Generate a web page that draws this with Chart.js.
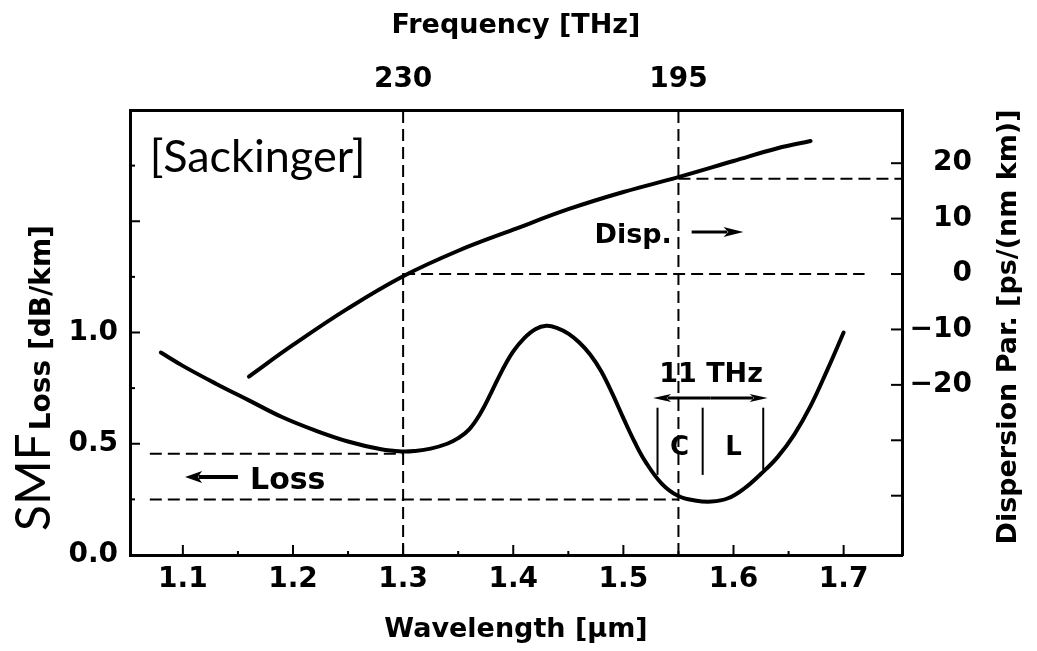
<!DOCTYPE html>
<html>
<head>
<meta charset="utf-8">
<script src="https://cdn.jsdelivr.net/npm/chart.js@4.4.0/dist/chart.umd.min.js"></script>
<style>
    html, body { margin: 0; padding: 0; background: #fff; }
    #wrap { width: 1037px; height: 651px; position: relative; }
</style>
</head>
<body>
<div id="wrap"><canvas id="fiber"></canvas></div>
<script>
// SMF attenuation, dB/km
const lossWavelength = [1.08, 1.10, 1.13, 1.16, 1.19, 1.22, 1.25, 1.28, 1.30, 1.31, 1.325, 1.34, 1.35, 1.36, 1.37, 1.38, 1.39, 1.40, 1.41, 1.42, 1.43, 1.44, 1.45, 1.46, 1.47, 1.48, 1.49, 1.50, 1.51, 1.52, 1.535, 1.55, 1.565, 1.58, 1.595, 1.61, 1.625, 1.64, 1.655, 1.67, 1.685, 1.70];
const lossValues     = [0.91, 0.85, 0.77, 0.695, 0.62, 0.56, 0.51, 0.475, 0.465, 0.467, 0.478, 0.50, 0.525, 0.565, 0.635, 0.73, 0.83, 0.915, 0.975, 1.015, 1.03, 1.02, 0.995, 0.955, 0.90, 0.825, 0.725, 0.615, 0.51, 0.42, 0.32, 0.265, 0.245, 0.24, 0.255, 0.30, 0.365, 0.44, 0.54, 0.67, 0.83, 1.00];

// chromatic dispersion, ps/(nm km)
const dispWavelength = [1.16, 1.20, 1.25, 1.30, 1.35, 1.40, 1.45, 1.50, 1.55, 1.60, 1.64, 1.67];
const dispValues     = [-18.5, -12.8, -6.2, -0.4, 4.2, 8.0, 11.7, 14.8, 17.5, 20.4, 22.7, 24.0];

const wavelengthTicks  = [1.1, 1.15, 1.2, 1.25, 1.3, 1.35, 1.4, 1.45, 1.5, 1.55, 1.6, 1.65, 1.7];
const wavelengthLabels = [1.1, 1.2, 1.3, 1.4, 1.5, 1.6, 1.7];
const lossTicks        = [0, 0.25, 0.5, 0.75, 1.0, 1.25, 1.5, 1.75];
const lossLabels       = [0, 0.5, 1.0];
const dispTicks        = [-40, -30, -20, -10, 0, 10, 20];
const dispLabels       = [-20, -10, 0, 10, 20];
const freqTickWavelength = [1.3, 1.55];
const freqLabels         = ['230', '195'];

// dashed reference lines and the C / L band markers
const guides = [
    { axis: 'y',  dash: true,  points: [[1.3, 0], [1.3, 2]] },
    { axis: 'y',  dash: true,  points: [[1.55, 0], [1.55, 2]] },
    { axis: 'y2', dash: true,  points: [[1.3, 0], [1.719, 0]] },
    { axis: 'y2', dash: true,  points: [[1.55, 17.2], [1.753, 17.2]] },
    { axis: 'y',  dash: true,  points: [[1.07, 0.455], [1.3, 0.455]] },
    { axis: 'y',  dash: true,  points: [[1.07, 0.25], [1.55, 0.25]] },
    { axis: 'y',  dash: false, points: [[1.531, 0.36], [1.531, 0.662]] },
    { axis: 'y',  dash: false, points: [[1.572, 0.36], [1.572, 0.662]] },
    { axis: 'y',  dash: false, points: [[1.627, 0.383], [1.627, 0.662]] }
];

const arrows = [
    { axis: 'y',  from: [1.150, 0.351], to: [1.102, 0.351], width: 4, head: 17, half: 6 },
    { axis: 'y2', from: [1.562, 7.6],   to: [1.609, 7.6],   width: 3, head: 20, half: 5 },
    { axis: 'y',  from: [1.579, 0.706], to: [1.527, 0.706], width: 3, head: 18, half: 4 },
    { axis: 'y',  from: [1.579, 0.706], to: [1.631, 0.706], width: 3, head: 18, half: 4 }
];

const BOLD = 'bold 27px "DejaVu Sans"';
const notes = [
    { text: '[Sackinger]', axis: 'y',  at: [1.070, 1.721], font: '45px Lato', align: 'left' },
    { text: 'Disp.',       axis: 'y2', at: [1.544, 5.6],   font: BOLD, align: 'right' },
    { text: 'Loss',        axis: 'y',  at: [1.161, 0.297], font: 'bold 30px "DejaVu Sans"', align: 'left' },
    { text: '11 THz',      axis: 'y',  at: [1.5796, 0.778], font: BOLD, align: 'center' },
    { text: 'C',           axis: 'y',  at: [1.551, 0.449], font: 'bold 26px "DejaVu Sans"', align: 'center' },
    { text: 'L',           axis: 'y',  at: [1.600, 0.449], font: 'bold 26px "DejaVu Sans"', align: 'center' }
];

const curve = (xs, ys) => xs.map((x, i) => ({ x, y: ys[i] }));
const minus = v => (v < 0 ? '\u2212' + Math.abs(v) : String(v));
const isHalf = v => Math.abs(v * 2 - Math.round(v * 2)) < 1e-9;

const tickFont = { family: '"DejaVu Sans"', size: 28, weight: 'bold' };
const titleFont = { family: '"DejaVu Sans"', size: 27, weight: 'bold' };
const frame = { display: true, color: '#000', width: 3 };

const figurePlugin = {
    id: 'figure',
    beforeDraw: chart => {
        const ctx = chart.ctx;
        ctx.save();
        ctx.fillStyle = '#fff';
        ctx.fillRect(0, 0, chart.width, chart.height);
        ctx.restore();
    },
    afterDraw: chart => {
        const ctx = chart.ctx;
        const area = chart.chartArea;
        const { x, y, y2 } = chart.scales;
        const px = (axis, p) => [x.getPixelForValue(p[0]), chart.scales[axis].getPixelForValue(p[1])];
        const line = (x1, y1, x2, y2) => { ctx.beginPath(); ctx.moveTo(x1, y1); ctx.lineTo(x2, y2); ctx.stroke(); };

        ctx.save();
        ctx.strokeStyle = '#000';
        ctx.fillStyle = '#000';

        // inward tick marks
        ctx.lineWidth = 2;
        wavelengthTicks.forEach(v => {
            const tx = x.getPixelForValue(v);
            line(tx, area.bottom, tx, area.bottom - (wavelengthLabels.includes(v) ? 10 : 4));
        });
        lossTicks.forEach(v => {
            const ty = y.getPixelForValue(v);
            line(area.left, ty, area.left + (isHalf(v) ? 10 : 5), ty);
        });
        dispTicks.forEach(v => {
            const ty = y2.getPixelForValue(v);
            line(area.right, ty, area.right - 11, ty);
        });

        // arrows
        arrows.forEach(a => {
            const [x1, y1] = px(a.axis, a.from);
            const [x2, y2p] = px(a.axis, a.to);
            const dir = Math.sign(x2 - x1);
            ctx.lineWidth = a.width;
            line(x1, y1, x2 - dir * a.head * 0.8, y2p);
            ctx.beginPath();
            ctx.moveTo(x2, y2p);
            ctx.lineTo(x2 - dir * a.head, y2p - a.half);
            ctx.lineTo(x2 - dir * a.head * 0.75, y2p);
            ctx.lineTo(x2 - dir * a.head, y2p + a.half);
            ctx.closePath();
            ctx.fill();
        });

        // text inside the plot
        ctx.textBaseline = 'alphabetic';
        notes.forEach(n => {
            const [nx, ny] = px(n.axis, n.at);
            ctx.font = n.font;
            ctx.textAlign = n.align;
            ctx.fillText(n.text, nx, ny);
        });

        // vertical axis titles, both reading upwards
        ctx.textAlign = 'left';
        ctx.save();
        ctx.translate(50, 531);
        ctx.rotate(-Math.PI / 2);
        ctx.font = '48px Lato';
        ctx.fillText('SMF', 0, 0);
        const w = ctx.measureText('SMF').width;
        ctx.font = 'bold 28px "DejaVu Sans"';
        ctx.fillText('Loss [dB/km]', w + 3, 0);
        ctx.restore();

        ctx.save();
        ctx.translate(1016, 327);
        ctx.rotate(-Math.PI / 2);
        ctx.textAlign = 'center';
        ctx.font = BOLD;
        ctx.fillText('Dispersion Par. [ps/(nm km)]', 0, 0);
        ctx.restore();

        ctx.restore();
    }
};

new Chart(document.getElementById('fiber'), {
    type: 'line',
    data: {
        datasets: [
            { data: curve(lossWavelength, lossValues), yAxisID: 'y', borderColor: '#000', borderWidth: 4, borderCapStyle: 'round', tension: 0.4, pointRadius: 0 },
            { data: curve(dispWavelength, dispValues), yAxisID: 'y2', borderColor: '#000', borderWidth: 4, borderCapStyle: 'round', tension: 0.4, pointRadius: 0 },
            ...guides.map(g => ({
                data: g.points.map(([gx, gy]) => ({ x: gx, y: gy })),
                yAxisID: g.axis,
                borderColor: '#000',
                borderWidth: 2,
                borderDash: g.dash ? [12, 6] : [],
                pointRadius: 0
            }))
        ]
    },
    options: {
        responsive: true,
        maintainAspectRatio: false,
        animation: false,
        layout: { padding: { right: 65 } },
        plugins: { legend: { display: false }, tooltip: { enabled: false } },
        scales: {
            x: {
                type: 'linear', position: 'bottom', min: 1.052, max: 1.753,
                afterBuildTicks: s => { s.ticks = wavelengthTicks.map(value => ({ value })); },
                afterFit: s => { s.height = 96; },
                grid: { display: false }, border: frame,
                ticks: {
                    autoSkip: false, maxRotation: 0, padding: 0, color: '#000', font: tickFont,
                    callback: v => (wavelengthLabels.includes(v) ? v.toFixed(1) : '')
                },
                title: { display: true, text: 'Wavelength [\u03bcm]', color: '#000', font: titleFont, padding: { top: 0, bottom: 5 } }
            },
            x2: {
                type: 'linear', position: 'top', min: 1.052, max: 1.753,
                afterBuildTicks: s => { s.ticks = freqTickWavelength.map(value => ({ value })); },
                afterFit: s => { s.height = 110; },
                grid: { display: false }, border: frame,
                ticks: {
                    autoSkip: false, maxRotation: 0, padding: 5, color: '#000', font: tickFont,
                    callback: (v, i) => freqLabels[i]
                },
                title: { display: true, text: 'Frequency [THz]', color: '#000', font: titleFont, padding: { top: 10, bottom: 0 } }
            },
            y: {
                type: 'linear', position: 'left', min: 0, max: 2.0,
                afterBuildTicks: s => { s.ticks = lossTicks.map(value => ({ value })); },
                afterFit: s => { s.width = 130; },
                grid: { display: false }, border: frame,
                ticks: {
                    autoSkip: false, padding: 4, color: '#000', font: tickFont,
                    callback: v => (lossLabels.includes(v) ? v.toFixed(1) : '')
                }
            },
            y2: {
                type: 'linear', position: 'right', min: -50.7, max: 29.6,
                afterBuildTicks: s => { s.ticks = dispTicks.map(value => ({ value })); },
                afterFit: s => { s.width = 70; },
                grid: { display: false }, border: frame,
                ticks: {
                    autoSkip: false, crossAlign: 'far', color: '#000', font: tickFont,
                    callback: v => (dispLabels.includes(v) ? minus(v) : '')
                }
            }
        }
    },
    plugins: [figurePlugin]
});
</script>
</body>
</html>
